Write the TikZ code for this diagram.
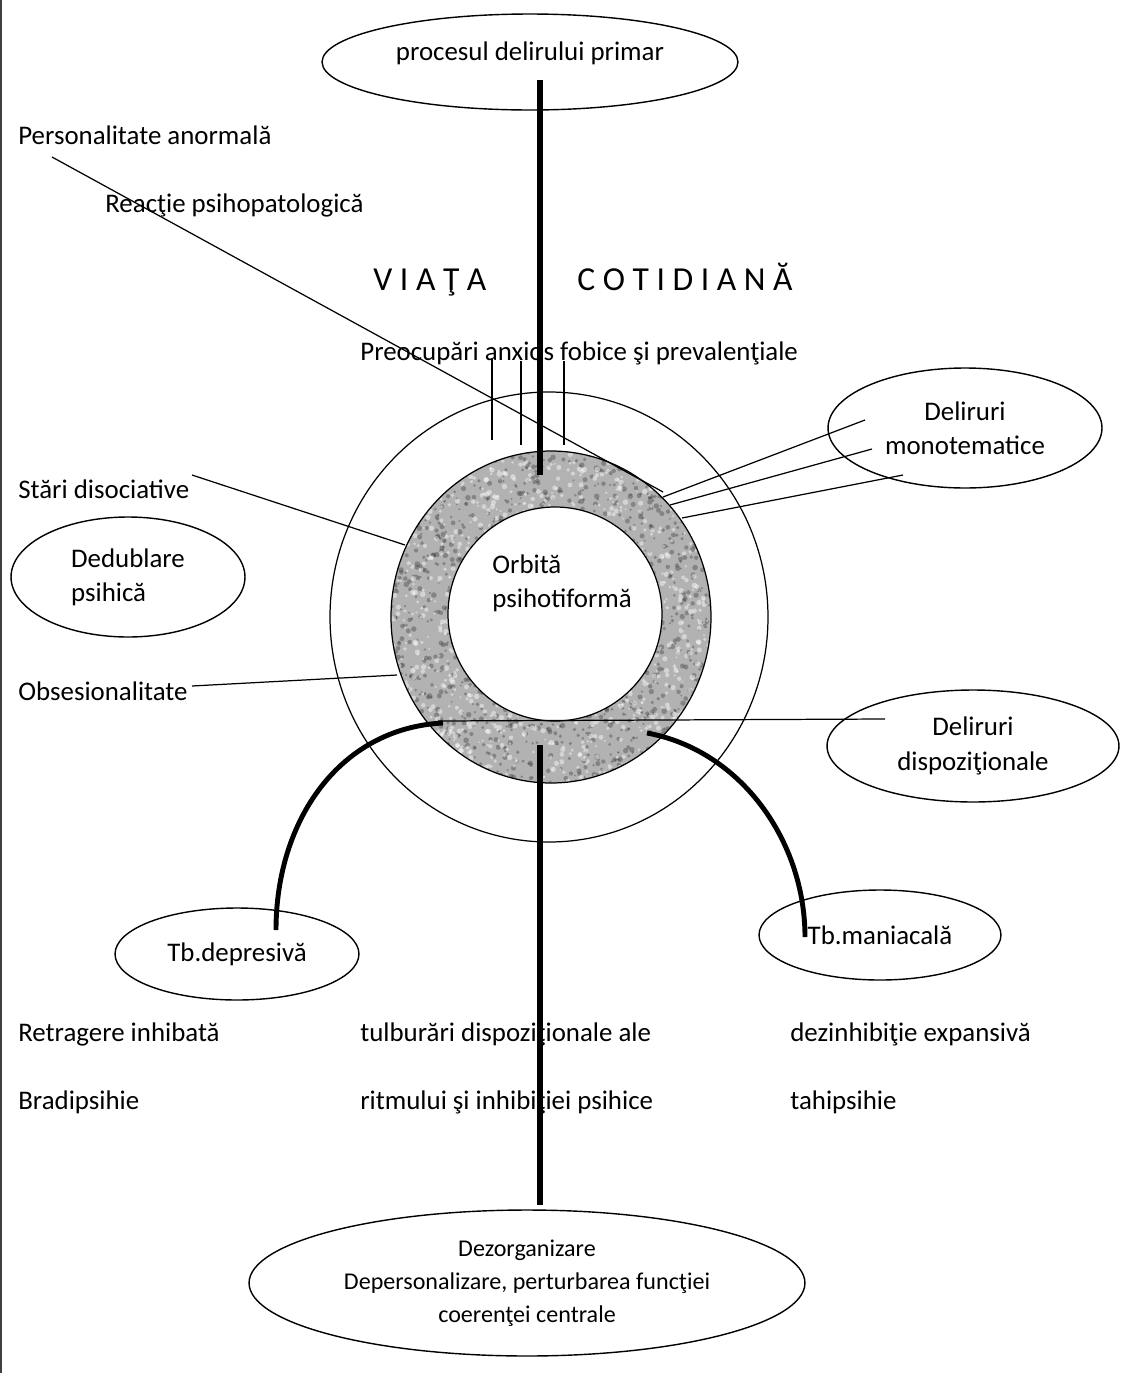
\documentclass[tikz,border=0pt]{standalone}
\usepackage{fontspec}
\setmainfont{Carlito}
\usetikzlibrary{shapes.geometric}

\tikzset{
  bubble/.style={draw, ellipse, line width=0.8pt, inner sep=0pt, align=center},
  label/.style={anchor=base west, inner sep=0pt},
  thinline/.style={line width=0.7pt},
  thickline/.style={line width=3.4pt},
  arcline/.style={line width=2.8pt}
}

\begin{document}
\begin{tikzpicture}[x=0.02cm, y=-0.02cm, font=\fontsize{15.3}{19.5}\selectfont]
  \useasboundingbox (0,0) rectangle (1124,1373);
  \draw[line width=1.6pt, black!75] (1,0) -- (1,1373);

  % orbits
  \draw[thinline] (549,617) ellipse [x radius=219, y radius=225];
  \fill[gray!60] (551,617) ellipse [x radius=160, y radius=166];
  \begin{scope}
    \clip (551,617) ellipse [x radius=160, y radius=166];
    \pgfmathsetseed{7}
    \foreach \i in {1,...,1600}
      \fill[black!75, opacity=0.4] (551+160*rand, 617+166*rand) circle [radius=1+1.8*rnd];
    \foreach \i in {1,...,1300}
      \fill[white, opacity=0.45] (551+160*rand, 617+166*rand) circle [radius=1+1.8*rnd];
  \end{scope}
  \draw[thinline] (551,617) ellipse [x radius=160, y radius=166];
  \draw[thinline, fill=white] (555,614) circle [radius=107];

  % ellipses
  \node[bubble, minimum width=8.32cm, minimum height=1.92cm, text depth=0.45cm] (primar) at (530,62) {procesul delirului primar};
  \node[bubble, minimum width=5.48cm, minimum height=2.4cm] (mono) at (965,428) {Deliruri\\monotematice};
  \node[bubble, minimum width=4.68cm, minimum height=2.4cm, align=left] (dedublare) at (128,577) {Dedublare\\psihică};
  \node[bubble, minimum width=5.84cm, minimum height=2.24cm] (dispoz) at (973,746) {Deliruri\\dispoziţionale};
  \node[bubble, minimum width=4.88cm, minimum height=1.84cm] (depresiva) at (237,954) {Tb.depresivă};
  \node[bubble, minimum width=4.84cm, minimum height=1.8cm] (maniacala) at (880,935) {Tb.maniacală};
  \node[bubble, minimum width=11.12cm, minimum height=2.92cm, font=\fontsize{13.7}{18.7}\selectfont] (dezorg) at (527,1283)
    {Dezorganizare\\Depersonalizare, perturbarea funcţiei\\coerenţei centrale};

  % texts
  \node[label] (personalitate) at (18,144) {Personalitate anormală};
  \node[label] (reactie) at (105,212) {Reacţie psihopatologică};
  \node[label, font=\fontsize{19.1}{22}\selectfont] (viata) at (373,290) {V I A Ţ A};
  \node[label, font=\fontsize{19.1}{22}\selectfont] (cotidiana) at (577,290) {C O T I D I A N Ă};
  \node[label] (preocupari) at (360,360) {Preocupări anxios fobice şi prevalenţiale};
  \node[label] (stari) at (18,498) {Stări disociative};
  \node[label] (obsesie) at (18,700) {Obsesionalitate};
  \node[anchor=west, inner sep=0pt, align=left] (orbita) at (492,583) {Orbită\\psihotiformă};
  \node[label] (retragere) at (18,1041) {Retragere inhibată};
  \node[label] (bradi) at (18,1109) {Bradipsihie};
  \node[label] (tulburari) at (360,1041) {tulburări dispoziţionale ale};
  \node[label] (ritm) at (360,1109) {ritmului şi inhibiţiei psihice};
  \node[label] (dezinhib) at (790,1041) {dezinhibiţie expansivă};
  \node[label] (tahi) at (790,1109) {tahipsihie};

  % connector ends
  \coordinate (topin) at (540,80);
  \coordinate (ringtop) at (540,475);
  \coordinate (ringbot) at (540,745);
  \coordinate (botin) at (540,1205);
  \coordinate (persend) at (52,157);
  \coordinate (ringpers) at (663,492);
  \coordinate (staristart) at (192,475);
  \coordinate (stariend) at (405,545);
  \coordinate (obsstart) at (192,686);
  \coordinate (obsend) at (397,675);
  \coordinate (horizl) at (438,721);
  \coordinate (horizr) at (885,719);
  \coordinate (arcl) at (443,723);
  \coordinate (arcr) at (647,733);
  \coordinate (depend) at (276,930);
  \coordinate (manend) at (805,937);

  % lines
  \draw[thinline] (persend) -- (ringpers);
  \foreach \x/\a/\b in {492/358/440, 521/361/445, 564/361/445}
    \draw[thinline] (\x,\a) -- (\x,\b);
  \draw[thinline] (663,497) -- (865,420);
  \draw[thinline] (670,505) -- (872,449);
  \draw[thinline] (682,518) -- (903,475);
  \draw[thinline] (staristart) -- (stariend);
  \draw[thinline] (obsstart) -- (obsend);
  \draw[thinline] (horizl) -- (horizr);
  \draw[thickline] (topin) -- (ringtop);
  \draw[thickline] (ringbot) -- (botin);
  \draw[arcline] (arcl) .. controls (340,728) and (276,820) .. (depend);
  \draw[arcline] (arcr) .. controls (740,750) and (805,840) .. (manend);
\end{tikzpicture}
\end{document}
